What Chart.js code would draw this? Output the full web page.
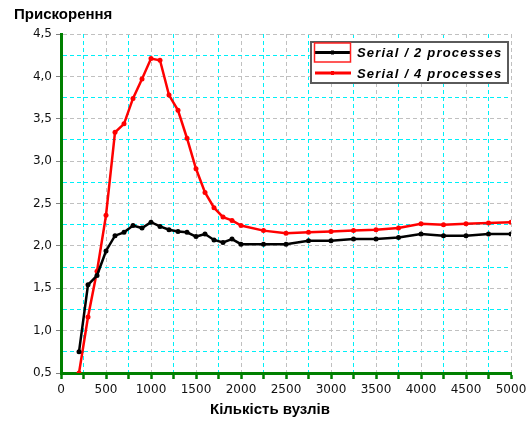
<!DOCTYPE html>
<html>
<head>
<meta charset="utf-8">
<script src="https://cdn.jsdelivr.net/npm/chart.js@4"></script>
<style>
  html, body { margin: 0; padding: 0; background: #fff; }
  #chart_cv { display: block; }
</style>
</head>
<body>
<canvas id="chart_cv" width="531" height="423"></canvas>
<script>
// データ
const nodes = [200, 300, 400, 500, 600, 700, 800, 900, 1000, 1100, 1200, 1300, 1400, 1500,
  1600, 1700, 1800, 1900, 2000, 2250, 2500, 2750, 3000, 3250, 3500, 3750, 4000, 4250, 4500, 4750, 5000];
const serial2 = [0.75, 1.54, 1.65, 1.94, 2.12, 2.16, 2.24, 2.21, 2.28, 2.23, 2.19, 2.17, 2.16, 2.11,
  2.14, 2.07, 2.04, 2.08, 2.02, 2.02, 2.02, 2.06, 2.06, 2.08, 2.08, 2.10, 2.14, 2.12, 2.12, 2.14, 2.14];
const serial4 = [0.5, 1.16, 1.70, 2.36, 3.34, 3.44, 3.74, 3.97, 4.21, 4.19, 3.78, 3.60, 3.27, 2.91,
  2.63, 2.45, 2.34, 2.30, 2.24, 2.18, 2.15, 2.16, 2.17, 2.18, 2.19, 2.21, 2.26, 2.25, 2.26, 2.27, 2.28];
const seriesLabels = ['Serial / 2 processes', 'Serial / 4 processes'];
const seriesColors = ['#000000', '#ff0000'];
const yTitle = 'Прискорення';
const xTitle = 'Кількість вузлів';

const toPoints = (ys) => nodes.map((x, i) => ({ x: x, y: ys[i] }));

const gridColor = (major) => major ? '#c0c0c0' : '#00f0f8';
// グリッドだけ破線、軸線は実線
const gridDash = (c) => (c.type === 'tick' ? [4, 3] : []);

// 見出しと凡例は自前で描く
const decorations = {
  id: 'decorations',
  afterDraw(chart) {
    const ctx = chart.ctx;
    ctx.save();
    ctx.fillStyle = '#000';
    ctx.textBaseline = 'middle';
    ctx.font = 'bold 15px "Liberation Sans"';
    ctx.textAlign = 'left';
    ctx.fillText(yTitle, 14, 15);
    ctx.textAlign = 'center';
    ctx.fillText(xTitle, 270, 410);

    // 凡例
    const bx = 311, by = 42, bw = 197, bh = 41;
    ctx.fillStyle = '#fff';
    ctx.fillRect(bx, by, bw, bh);
    ctx.strokeStyle = '#5a5a5a';
    ctx.lineWidth = 2;
    ctx.strokeRect(bx, by, bw, bh);
    ctx.font = 'bold italic 13px "Liberation Sans"';
    ctx.textAlign = 'left';
    ctx.letterSpacing = '1.2px';
    chart.data.datasets.forEach((ds, i) => {
      const y = 52.5 + i * 20.5;
      ctx.strokeStyle = ds.borderColor;
      ctx.lineWidth = 3;
      ctx.beginPath();
      ctx.moveTo(315, y);
      ctx.lineTo(351, y);
      ctx.stroke();
      ctx.fillStyle = ds.borderColor;
      ctx.fillRect(331, y - 2, 3, 4);
      ctx.fillStyle = '#000';
      ctx.fillText(ds.label, 357, y + 1);
    });
    ctx.letterSpacing = '0px';
    ctx.strokeStyle = '#ff2020';
    ctx.lineWidth = 1.5;
    ctx.strokeRect(314.5, 43, 36, 19);
    ctx.restore();
  }
};

const ctx = document.getElementById('chart_cv');
const chart_cv = new Chart(ctx, {
  type: 'line',
  data: {
    datasets: [
      {
        label: seriesLabels[0],
        data: toPoints(serial2),
        borderColor: seriesColors[0],
        backgroundColor: seriesColors[0],
        borderWidth: 2.5,
        pointRadius: 2.5,
        pointBorderWidth: 0,
        tension: 0
      },
      {
        label: seriesLabels[1],
        data: toPoints(serial4),
        borderColor: seriesColors[1],
        backgroundColor: seriesColors[1],
        borderWidth: 2.5,
        pointRadius: 2.5,
        pointBorderWidth: 0,
        tension: 0
      }
    ]
  },
  options: {
    responsive: false,
    animation: false,
    layout: { padding: { top: 34, right: 20, bottom: 0, left: 0 } },
    plugins: {
      legend: { display: false },
      tooltip: { enabled: false }
    },
    scales: {
      x: {
        type: 'linear',
        min: 0,
        max: 5000,
        afterFit: (s) => { s.height = 50; },
        ticks: {
          stepSize: 250,
          autoSkip: false,
          maxRotation: 0,
          padding: 4,
          color: '#111',
          font: { family: '"DejaVu Sans"', size: 12 },
          callback: (v) => (v % 500 === 0 ? String(v) : '')
        },
        grid: {
          color: (c) => gridColor(c.tick && c.tick.value % 500 === 0),
          lineWidth: 1,
          drawTicks: true,
          tickLength: 6,
          tickWidth: 2.5,
          tickColor: '#008000'
        },
        border: { color: '#008000', width: 3, dash: gridDash }
      },
      y: {
        min: 0.5,
        max: 4.5,
        afterFit: (s) => { s.width = 61; },
        ticks: {
          stepSize: 0.25,
          autoSkip: false,
          padding: 4,
          color: '#111',
          font: { family: '"DejaVu Sans"', size: 12 },
          callback: (v) => (Math.round(v * 4) % 2 === 0 ? v.toFixed(1).replace('.', ',') : '')
        },
        grid: {
          color: (c) => gridColor(c.tick && Math.round(c.tick.value * 4) % 2 === 0),
          lineWidth: 1,
          tickLength: 5,
          tickColor: (c) => (c.tick && Math.round(c.tick.value * 4) % 2 === 0 ? '#808080' : 'rgba(0,0,0,0)')
        },
        border: { color: '#008000', width: 3, dash: gridDash }
      }
    }
  },
  plugins: [decorations]
});
</script>
</body>
</html>
